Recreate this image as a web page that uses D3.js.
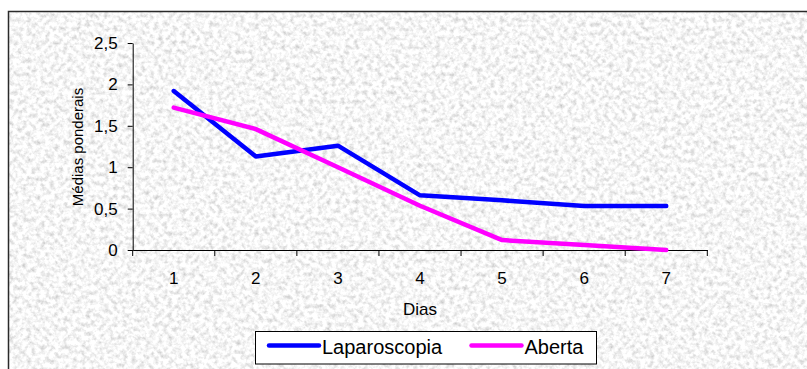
<!DOCTYPE html>
<html>
<head>
<meta charset="utf-8">
<script src="https://cdn.jsdelivr.net/npm/d3@7"></script>
<style>
  html, body { margin: 0; padding: 0; background: #fff; }
  svg { display: block; font-family: "Liberation Sans", Arial, sans-serif; }
</style>
</head>
<body>
<svg id="chart" width="807" height="369"></svg>
<script>
// Days of the post-operative follow-up
const dias = ["1", "2", "3", "4", "5", "6", "7"];
// Weighted means per day for each surgical approach
const laparoscopia = [1.92, 1.13, 1.26, 0.66, 0.60, 0.53, 0.53];
const aberta = [1.72, 1.46, 1.00, 0.535, 0.12, 0.06, 0.00];
// Y axis tick values
const yTicks = [0, 0.5, 1, 1.5, 2, 2.5];

const seriesNames = ["Laparoscopia", "Aberta"];
const seriesColors = ["#0000ff", "#ff00ff"];

const svg = d3.select("#chart");
const W = 807, H = 369;

// Granite-like background texture
const defs = svg.append("defs");
const filt = defs.append("filter").attr("id", "granite")
  .attr("x", 0).attr("y", 0).attr("width", 1).attr("height", 1)
  .attr("filterUnits", "objectBoundingBox");
filt.append("feTurbulence")
  .attr("type", "fractalNoise")
  .attr("baseFrequency", 0.22)
  .attr("numOctaves", 3)
  .attr("seed", 7)
  .attr("result", "noise");
filt.append("feColorMatrix")
  .attr("in", "noise")
  .attr("type", "matrix")
  .attr("values",
    "0.8 0 0 0 0.52  0.8 0 0 0 0.52  0.8 0 0 0 0.52  0 0 0 0 1");

svg.append("rect")
  .attr("x", 8).attr("y", 11)
  .attr("width", W).attr("height", H)
  .attr("fill", "#e8e8e8")
  .attr("filter", "url(#granite)");

// Outer frame (right and bottom edges run off the canvas)
svg.append("rect")
  .attr("x", 8.5).attr("y", 11.5)
  .attr("width", W + 10).attr("height", H + 10)
  .attr("fill", "none")
  .attr("stroke", "#2a2a2a")
  .attr("stroke-width", 1.5);

const plot = { left: 132.7, right: 707.3, top: 43, bottom: 250 };

const x = d3.scaleBand().domain(dias).range([plot.left, plot.right]).padding(0);
const y = d3.scaleLinear().domain([0, 2.5]).range([plot.bottom, plot.top]);

const locale = d3.formatLocale({ decimal: ",", thousands: ".", grouping: [3], currency: ["", ""] });
const fmt = v => locale.format(",")(v);

// Y axis
const gy = svg.append("g")
  .attr("transform", `translate(${plot.left},0)`)
  .call(d3.axisLeft(y).tickValues(yTicks).tickFormat(fmt).tickSizeInner(5).tickSizeOuter(0).tickPadding(10));
gy.selectAll("text").attr("font-size", 17).attr("fill", "#000").attr("font-family", "Liberation Sans, Arial, sans-serif");
gy.selectAll("line, path").attr("stroke", "#000");

// X axis: labels centred in each band, ticks on band boundaries
const gx = svg.append("g")
  .attr("transform", `translate(0,${plot.bottom})`)
  .call(d3.axisBottom(x).tickSize(0).tickPadding(21.5));
gx.selectAll("text").attr("font-size", 17).attr("fill", "#000").attr("font-family", "Liberation Sans, Arial, sans-serif");
gx.select("path").attr("stroke", "#000");
const boundaries = dias.map(d => x(d)).concat([x(dias[dias.length - 1]) + x.bandwidth()]);
gx.selectAll("line.bound").data(boundaries).join("line")
  .attr("class", "bound")
  .attr("x1", d => d).attr("x2", d => d)
  .attr("y1", 0).attr("y2", 6)
  .attr("stroke", "#000");

// Axis titles
svg.append("text")
  .attr("x", (plot.left + plot.right) / 2).attr("y", 315)
  .attr("text-anchor", "middle")
  .attr("font-size", 17)
  .text("Dias");
svg.append("text")
  .attr("transform", `translate(83,${147}) rotate(-90)`)
  .attr("text-anchor", "middle")
  .attr("font-size", 15)
  .text("Médias ponderais");

// Series lines
const line = d3.line()
  .x((d, i) => x(dias[i]) + x.bandwidth() / 2)
  .y(d => y(d));
[laparoscopia, aberta].forEach((vals, k) => {
  svg.append("path")
    .datum(vals)
    .attr("d", line)
    .attr("fill", "none")
    .attr("stroke", seriesColors[k])
    .attr("stroke-width", 4.5)
    .attr("stroke-linejoin", "round")
    .attr("stroke-linecap", "round");
});

// Legend
const lg = svg.append("g");
lg.append("rect")
  .attr("x", 255.5).attr("y", 331.5)
  .attr("width", 341).attr("height", 32.5)
  .attr("fill", "#fff")
  .attr("stroke", "#000")
  .attr("stroke-width", 1);
const legendItems = [
  { name: seriesNames[0], color: seriesColors[0], x0: 269 },
  { name: seriesNames[1], color: seriesColors[1], x0: 471.5 }
];
legendItems.forEach(it => {
  lg.append("line")
    .attr("x1", it.x0).attr("x2", it.x0 + 50)
    .attr("y1", 345.5).attr("y2", 345.5)
    .attr("stroke", it.color)
    .attr("stroke-width", 4.5)
    .attr("stroke-linecap", "round");
  lg.append("text")
    .attr("x", it.x0 + 53).attr("y", 354)
    .attr("font-size", 20)
    .text(it.name);
});
</script>
</body>
</html>
